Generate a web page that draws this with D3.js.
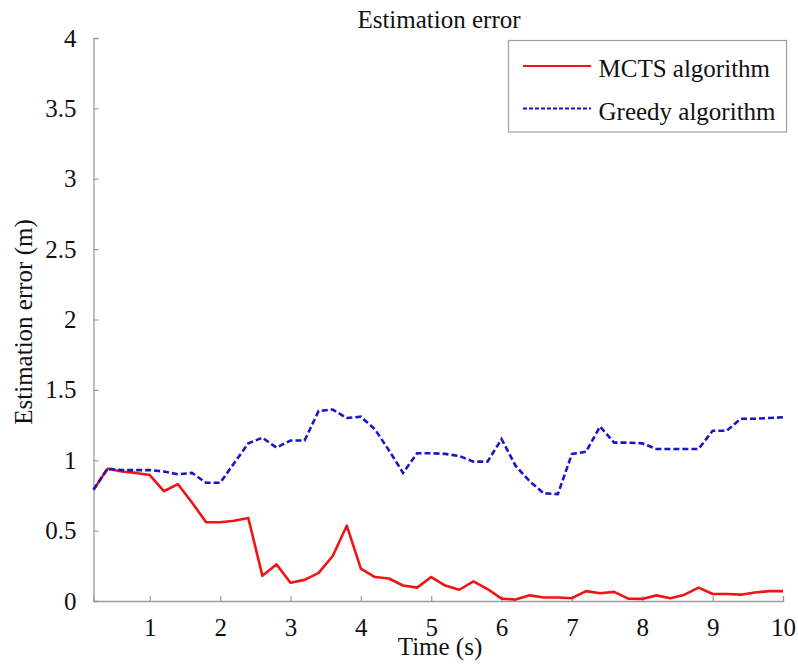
<!DOCTYPE html>
<html><head><meta charset="utf-8">
<script src="https://cdn.jsdelivr.net/npm/d3@7"></script>
<style>body{margin:0;background:#fff}text{font-family:"Liberation Serif","Times New Roman",serif;fill:#111}</style>
</head><body><svg id="c" width="798" height="664"></svg>
<script>
const times = [0.2,0.4,0.6,0.8,1.0,1.2,1.4,1.6,1.8,2.0,2.2,2.4,2.6,2.8,3.0,3.2,3.4,3.6,3.8,4.0,4.2,4.4,4.6,4.8,5.0,5.2,5.4,5.6,5.8,6.0,6.2,6.4,6.6,6.8,7.0,7.2,7.4,7.6,7.8,8.0,8.2,8.4,8.6,8.8,9.0,9.2,9.4,9.6,9.8,10.0];
const mcts = [0.79,0.94,0.92,0.91,0.895,0.78,0.83,0.70,0.56,0.56,0.57,0.59,0.18,0.26,0.13,0.15,0.20,0.32,0.535,0.23,0.17,0.16,0.11,0.095,0.17,0.11,0.08,0.14,0.085,0.017,0.01,0.04,0.025,0.025,0.02,0.07,0.055,0.065,0.017,0.015,0.04,0.02,0.045,0.095,0.05,0.05,0.045,0.06,0.07,0.07];
const greedy = [0.79,0.94,0.93,0.93,0.93,0.92,0.90,0.91,0.84,0.84,0.98,1.12,1.16,1.09,1.14,1.14,1.35,1.36,1.30,1.31,1.22,1.07,0.91,1.05,1.05,1.045,1.03,0.99,0.99,1.15,0.96,0.85,0.765,0.76,1.045,1.06,1.24,1.125,1.125,1.12,1.08,1.08,1.08,1.08,1.21,1.21,1.295,1.295,1.30,1.305];
const xTicks = [1,2,3,4,5,6,7,8,9,10];
const yTicks = [0,0.5,1,1.5,2,2.5,3,3.5,4];
const seriesNames = ["MCTS algorithm","Greedy algorithm"];

const svg = d3.select("#c");
const x = d3.scaleLinear().domain([0.2,10]).range([93.5,783]);
const y = d3.scaleLinear().domain([0,4]).range([601,38]);
const axisColor = "#9a9a9a";
const FS = "25px";

const gx = svg.append("g").attr("transform","translate(0,601)")
  .call(d3.axisBottom(x).tickValues(xTicks).tickSize(-5).tickPadding(17).tickFormat(d3.format("d")));
const gy = svg.append("g").attr("transform","translate(93.5,0)")
  .call(d3.axisLeft(y).tickValues(yTicks).tickSize(-5).tickPadding(17).tickFormat(d=>String(d)));
[gx,gy].forEach(g=>{
  g.select(".domain").attr("stroke",axisColor).attr("stroke-width",1.3);
  g.selectAll(".tick line").attr("stroke",axisColor).attr("stroke-width",1.2);
  g.selectAll(".tick text").style("font-family","'Liberation Serif',serif").style("font-size",FS).attr("fill","#111");
});

const line = d3.line().x((d,i)=>x(times[i])).y(d=>y(d));
svg.append("path").datum(mcts).attr("d",line).attr("fill","none").attr("stroke","#f01414").attr("stroke-width",2.6).attr("stroke-linejoin","round");
svg.append("path").datum(greedy).attr("d",line).attr("fill","none").attr("stroke","#1717c8").attr("stroke-width",2.6).attr("stroke-dasharray","6,3");

svg.append("text").attr("x",439).attr("y",28).attr("text-anchor","middle").style("font-size",FS).text("Estimation error");
svg.append("text").attr("x",440).attr("y",655).attr("text-anchor","middle").style("font-size",FS).text("Time (s)");
svg.append("text").attr("transform","translate(32,322) rotate(-90)").attr("text-anchor","middle").style("font-size",FS).text("Estimation error (m)");

const lg = svg.append("g");
lg.append("rect").attr("x",508.5).attr("y",40.5).attr("width",278).attr("height",91.5).attr("fill","#fff").attr("stroke","#a0a0a0").attr("stroke-width",1.2);
const colors = ["#f01414","#1717c8"], dashes = [null,"4,2"], rowsY=[66,108.5];
seriesNames.forEach((n,i)=>{
  lg.append("line").attr("x1",523).attr("x2",591).attr("y1",rowsY[i]).attr("y2",rowsY[i]).attr("stroke",colors[i]).attr("stroke-width",1.8).attr("stroke-dasharray",dashes[i]);
  lg.append("text").attr("x",598.5).attr("y",rowsY[i]+11).style("font-size",FS).text(n);
});
</script></body></html>
